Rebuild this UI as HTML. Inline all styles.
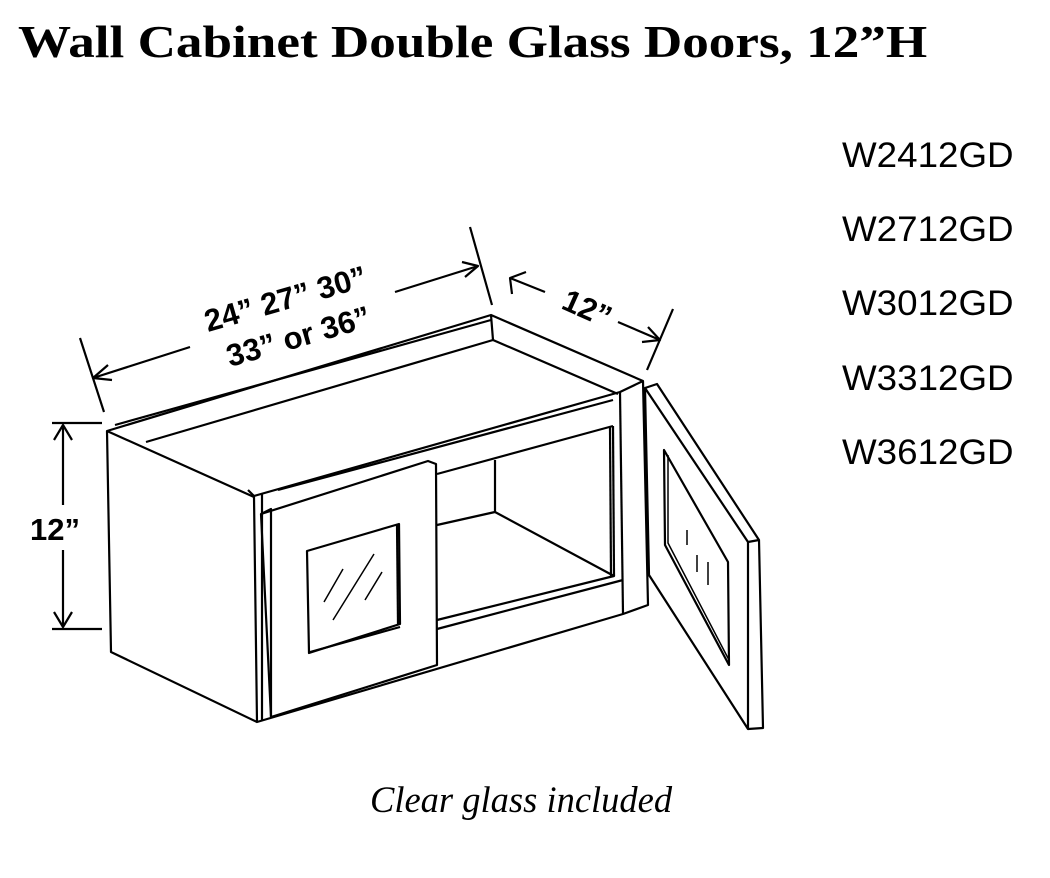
<!DOCTYPE html>
<html><head><meta charset="utf-8"><style>
body{margin:0;background:#fff;width:1050px;height:878px;overflow:hidden;position:relative}
.t{position:absolute;font-family:"Liberation Serif",serif;font-weight:bold;font-size:46px;left:18px;top:15px;white-space:nowrap;transform-origin:0 0;transform:scaleX(1.155)}
.m{position:absolute;left:842px;font-family:"Liberation Sans",sans-serif;font-size:35px;transform-origin:0 0;transform:scaleX(1.05)}
.c{position:absolute;left:370px;top:778px;font-family:"Liberation Serif",serif;font-style:italic;font-size:36.5px;white-space:nowrap}
</style></head><body>
<div class="t">Wall Cabinet Double Glass Doors, 12”H</div>
<div class="m" style="top:136px">W2412GD</div>
<div class="m" style="top:210px">W2712GD</div>
<div class="m" style="top:284px">W3012GD</div>
<div class="m" style="top:359px">W3312GD</div>
<div class="m" style="top:433px">W3612GD</div>
<div class="c">Clear glass included</div>
<svg width="1050" height="878" style="position:absolute;left:0;top:0" fill="none" stroke="#000" stroke-width="2.2" stroke-linejoin="round">
<line x1="80" y1="338" x2="104" y2="412"/><line x1="470" y1="227" x2="492" y2="305"/>
<line x1="93" y1="378" x2="190" y2="347"/><line x1="395" y1="292" x2="478" y2="266"/>
<path d="M108,365 L93,378 L112,380"/><path d="M462,262 L478,266 L465,277"/>
<line x1="673" y1="309" x2="647" y2="370"/><line x1="510" y1="278" x2="545" y2="292"/><line x1="618" y1="322" x2="660" y2="340"/>
<path d="M512,294 L510,278 L526,272"/><path d="M648,327 L660,340 L642,342"/>
<line x1="52" y1="423" x2="102" y2="423"/><line x1="52" y1="629" x2="102" y2="629"/>
<line x1="63" y1="425" x2="63" y2="505"/><line x1="63" y1="550" x2="63" y2="627"/>
<path d="M54,440 L63,425 L72,440"/><path d="M54,612 L63,627 L72,612"/>
<g font-family="Liberation Sans,sans-serif" font-weight="bold" font-size="31" fill="#000" stroke="none">
<text x="30" y="540">12”</text>
<text transform="translate(208,332) rotate(-16)">24” 27” 30”</text>
<text transform="translate(230,367) rotate(-16)">33” or 36”</text>
<text transform="translate(560,308) rotate(24)">12”</text>
</g>
<path d="M107,431 L491,315 L643,381 L648,605 L623,614 L257,722 L111,652 Z"/>
<path d="M107,431 L254,497 L257,722"/>
<path d="M115,425 L491,320"/>
<path d="M146,442 L493,340 L618,394"/><line x1="493" y1="340" x2="491" y2="315"/>
<path d="M254,496 L620,392 L643,381"/>
<path d="M248,490 L254,496"/><line x1="262" y1="494" x2="262" y2="720"/>
<line x1="620" y1="392" x2="623" y2="614"/>
<path d="M278,490 L613,400"/><path d="M437,474 L613,426"/><line x1="613" y1="426" x2="614" y2="576"/><line x1="610" y1="427" x2="611" y2="577"/>
<path d="M437,525 L495,512 L614,576 L437,620"/><path d="M437,629 L623,580"/>
<line x1="495" y1="460" x2="495" y2="512"/>
<path d="M261,514 L428,461 L436,464 L437,665 L271,717 Z"/>
<path d="M261,514 L271,509 L271,717"/>
<path d="M307,551 L399,524 L400,624 L309,653 Z"/><path d="M310,652 L400,627"/><line x1="397" y1="525" x2="398" y2="624"/>
<path d="M324,602 L343,569 M333,620 L374,554 M365,600 L382,572" stroke-width="1.5"/>
<path d="M645,388 L748,542 L748,729 L649,575 Z"/>
<path d="M645,388 L657,384 L759,540 L763,728 L748,729"/><line x1="748" y1="542" x2="759" y2="540"/>
<path d="M664,450 L728,562 L729,665 L665,545 Z"/><path d="M668,455 L668,543 L729,660" stroke-width="1.5"/>
<path d="M687,530 L687,545 M697,555 L697,572 M708,562 L708,585" stroke-width="1.5"/>
</svg>
</body></html>
